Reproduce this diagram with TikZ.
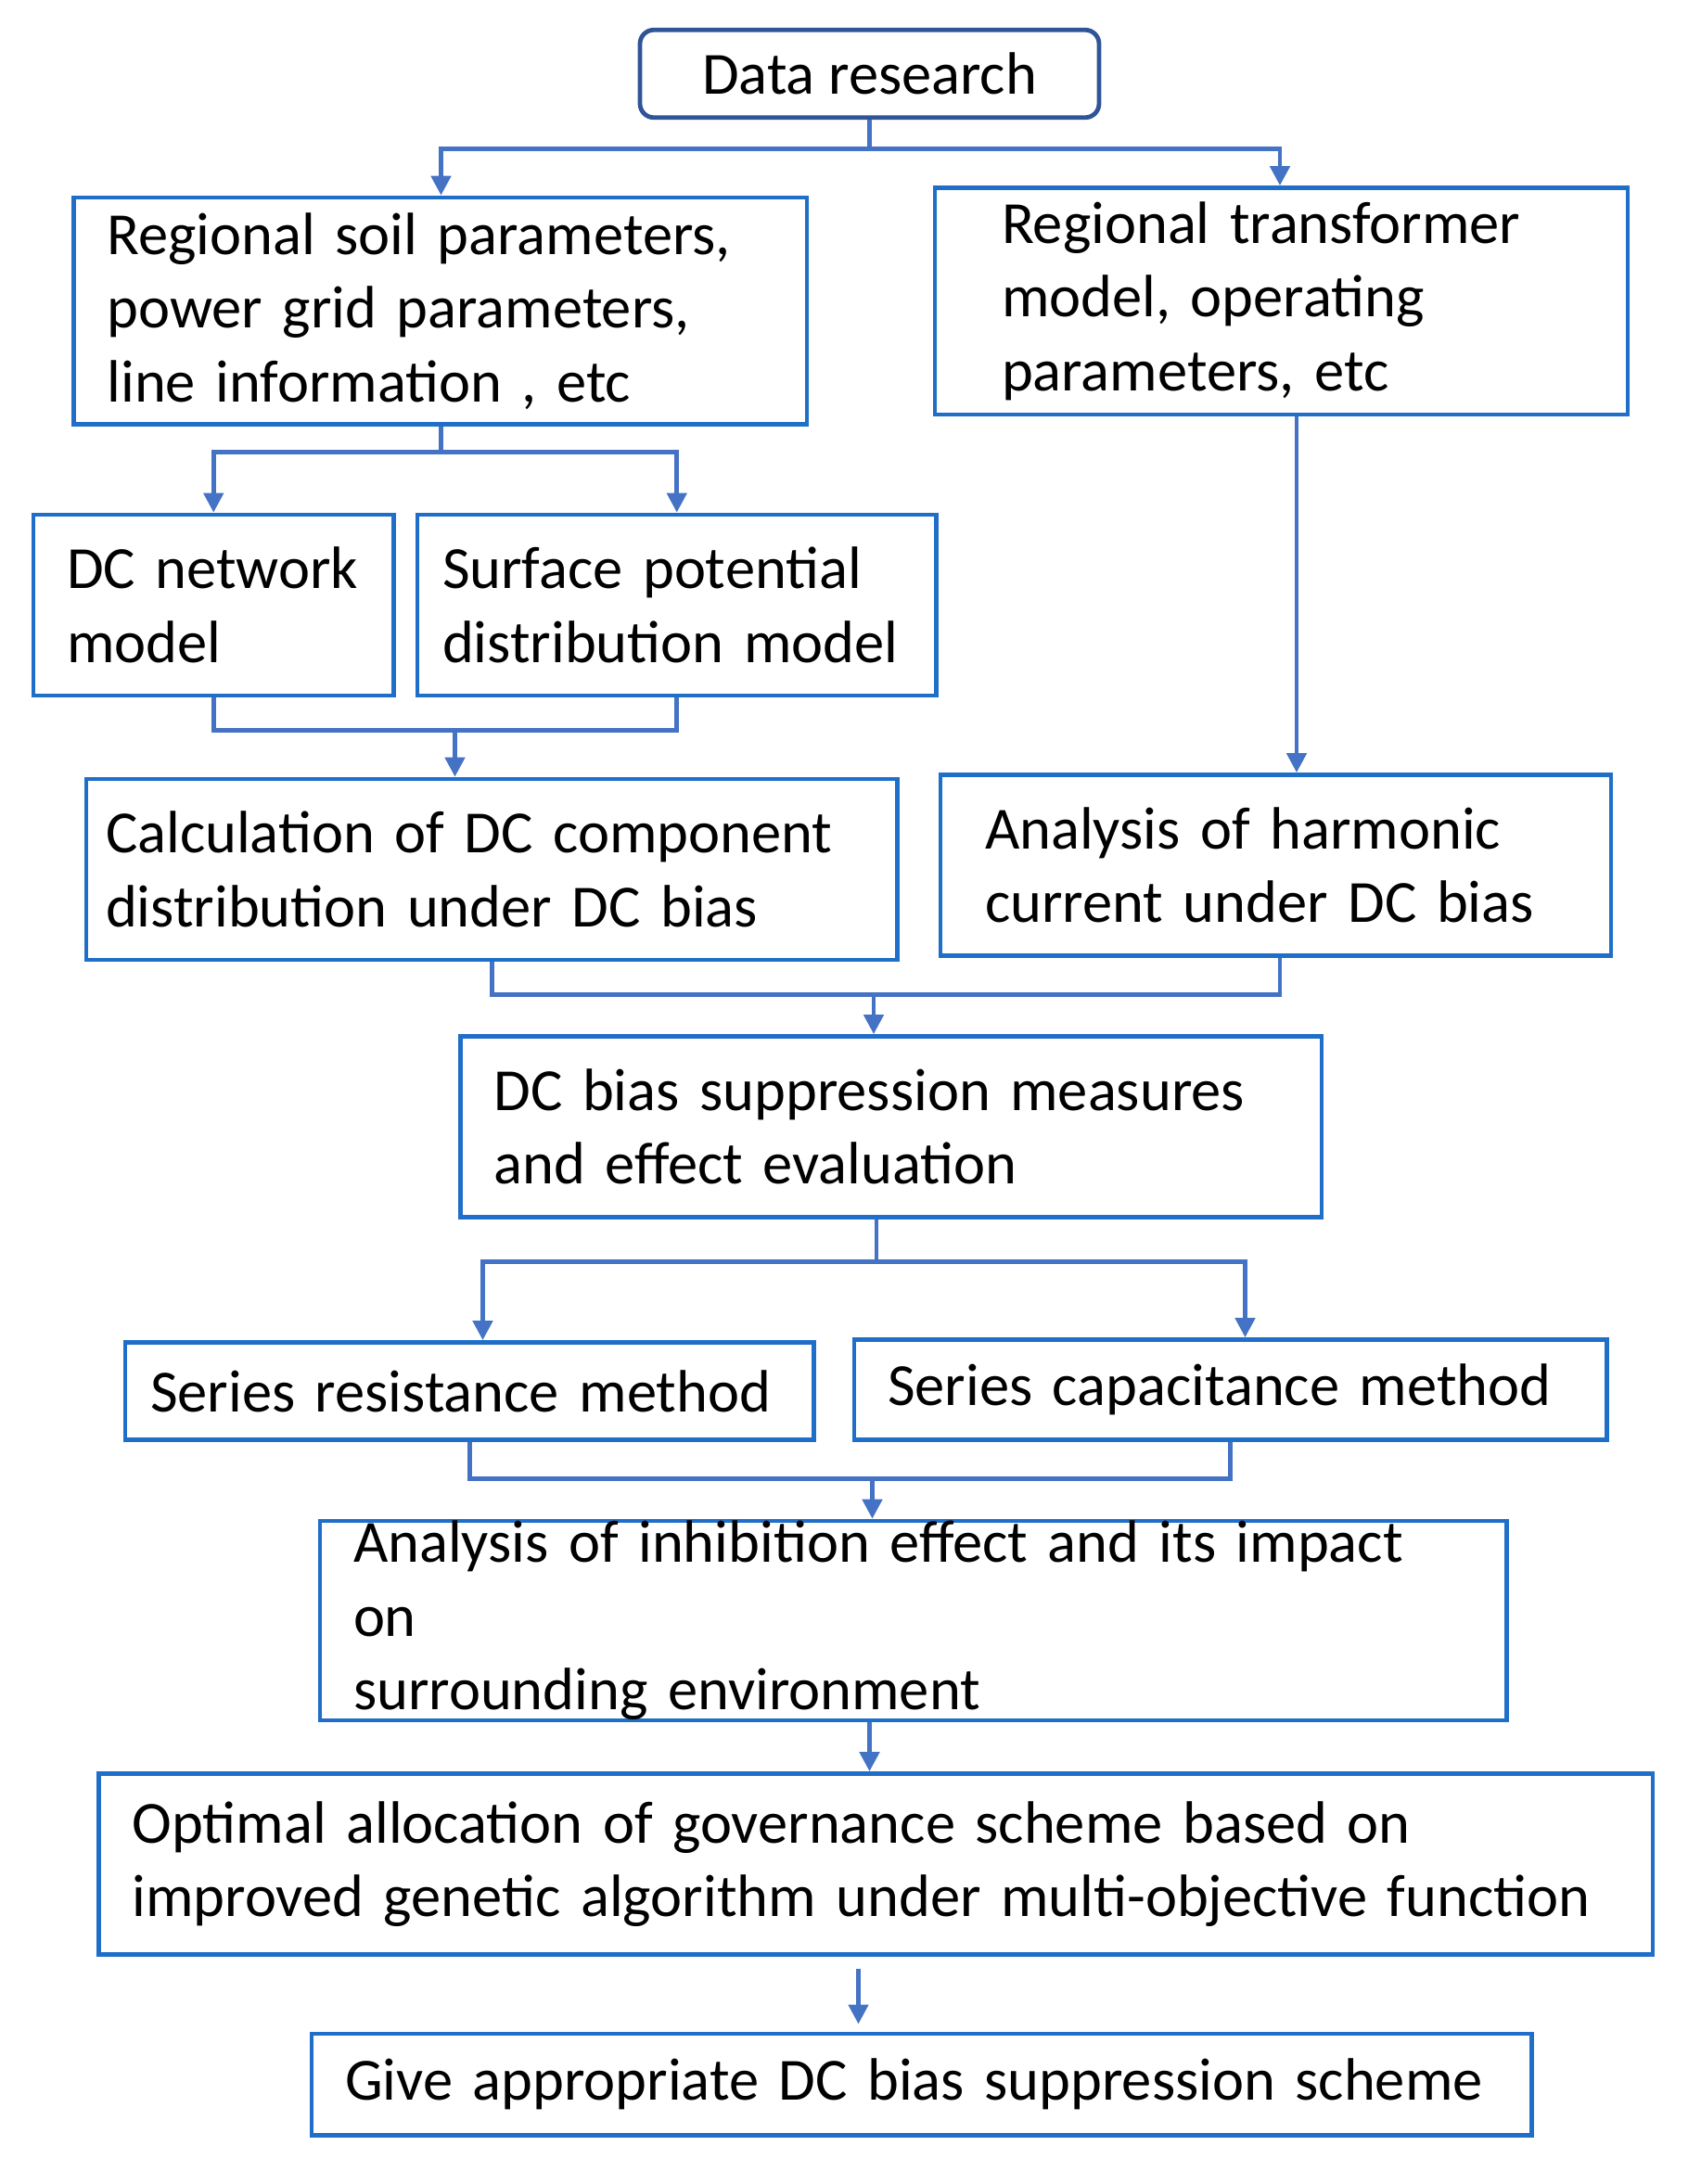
\documentclass[tikz,border=0pt]{standalone}
\usepackage{fontspec}
\setmainfont{Carlito}
\usetikzlibrary{arrows.meta,calc}
\definecolor{bxc}{HTML}{1F6FC8}
\definecolor{lnc}{HTML}{4472C4}
\definecolor{dkc}{HTML}{2F5597}
\tikzset{
 box/.style={draw=bxc,line width=1.6pt,inner xsep=12pt,inner ysep=0pt,align=left,font=\fontsize{21.5}{26.5}\selectfont},
 ln/.style={draw=lnc,line width=1.6pt},
 ar/.style={ln,-{Triangle[length=7pt,width=7pt]}}
}
\begin{document}
\begin{tikzpicture}[x=0.5pt,y=-0.5pt]
\useasboundingbox (0,0) rectangle (1222,1570);
\node[box,draw=dkc,rounded corners=5pt,minimum width=165pt,minimum height=31.5pt,align=center] (data) at (625,53) {Data research};
\node[box,minimum width=263.5pt,minimum height=81.5pt,text width=239.5pt] (soil) at (316.5,223.5) {Regional soil parameters,\\power grid parameters,\\line information , etc};
\node[box,minimum width=249pt,minimum height=81.5pt,text width=201pt,inner xsep=24pt] (trans) at (921,216.5) {Regional transformer\\model, operating\\parameters, etc};
\node[box,minimum width=129.5pt,minimum height=65pt,text width=105.5pt] (dcn) at (153.5,435) {DC network\\model};
\node[box,minimum width=186.5pt,minimum height=65pt,text width=168.5pt,inner xsep=9pt] (surf) at (486.5,435) {Surface potential\\distribution model};
\node[box,minimum width=291.5pt,minimum height=65pt,text width=277.5pt,inner xsep=7pt] (calc) at (353.5,625) {Calculation of DC component\\distribution under DC bias};
\node[box,minimum width=241pt,minimum height=65pt,text width=209pt,inner xsep=16pt] (harm) at (917,622) {Analysis of harmonic\\current under DC bias};
\node[box,minimum width=309.5pt,minimum height=65pt,text width=285.5pt] (supp) at (640.5,810) {DC bias suppression measures\\and effect evaluation};
\node[box,minimum width=247.5pt,minimum height=35pt,text width=229.5pt,inner xsep=9pt] (res) at (337.5,1000) {Series resistance method};
\node[box,minimum width=270.5pt,minimum height=36pt,text width=246.5pt] (cap) at (884.5,999) {Series capacitance method};
\node[box,minimum width=426.5pt,minimum height=65pt,text width=402.5pt] (inh) at (656.5,1165) {Analysis of inhibition effect and its impact on\\surrounding environment};
\node[box,minimum width=558.5pt,minimum height=65pt,text width=534.5pt] (opt) at (629.5,1340) {Optimal allocation of governance scheme based on\\improved genetic algorithm under multi-objective function};
\node[box,minimum width=438.5pt,minimum height=36.5pt,text width=414.5pt] (give) at (662.5,1498.5) {Give appropriate DC bias suppression scheme};
% connectors
\coordinate (j1) at (625,107);
\draw[ln] (data.south) -- (j1);
\draw[ar] (j1) -| (soil.north -| 317,0);
\draw[ar] (j1) -| (trans.north -| 920,0);
\coordinate (j2) at (317,325);
\draw[ln] (soil.south -| j2) -- (j2);
\draw[ar] (j2) -| (dcn.north);
\draw[ar] (j2) -| (surf.north);
\draw[ar] (trans.south -| 932,0) -- (harm.north -| 932,0);
\coordinate (j3) at (327,525);
\draw[ln] (dcn.south) |- (j3) -| (surf.south);
\draw[ar] (j3) -- (calc.north -| j3);
\coordinate (j4) at (628,715);
\draw[ln] (calc.south) |- (j4) -| (harm.south -| 920,0);
\draw[ar] (j4) -- (supp.north -| j4);
\coordinate (j5) at (630,907);
\draw[ln] (supp.south -| j5) -- (j5);
\draw[ar] (j5) -| (res.north -| 347,0);
\draw[ar] (j5) -| (cap.north -| 895,0);
\coordinate (j6) at (627,1063);
\draw[ln] (res.south) |- (j6) -| (cap.south);
\draw[ar] (j6) -- (inh.north -| j6);
\draw[ar] (inh.south -| 625,0) -- (opt.north -| 625,0);
\coordinate (j7) at (617,1415);
\draw[ar] (j7) -- ($(j7)+(0,40)$);
\end{tikzpicture}
\end{document}
